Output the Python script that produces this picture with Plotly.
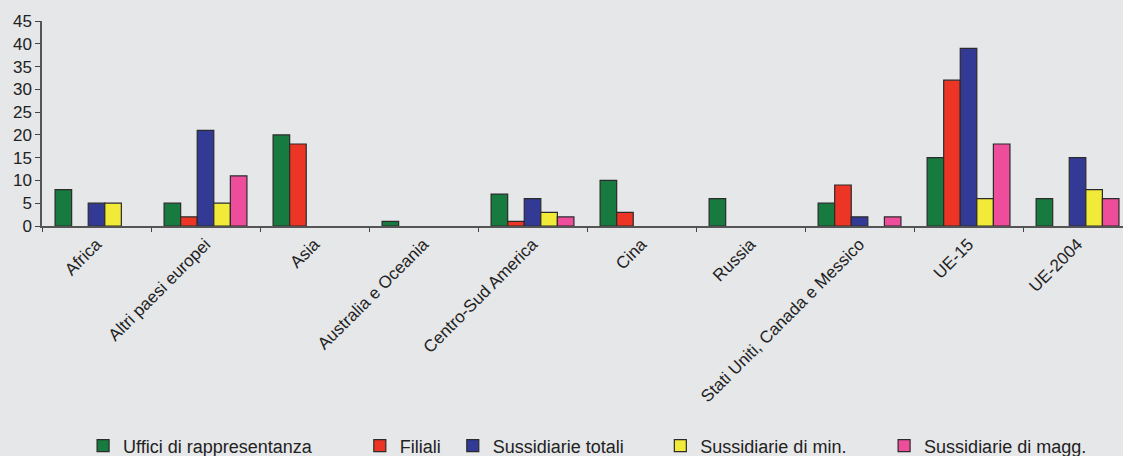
import plotly.graph_objects as go

regioni = ["Africa", "Altri paesi europei", "Asia", "Australia e Oceania",
           "Centro-Sud America", "Cina", "Russia",
           "Stati Uniti, Canada e Messico", "UE-15", "UE-2004"]

uffici = [8, 5, 20, 1, 7, 10, 6, 5, 15, 6]
filiali = [0, 2, 18, 0, 1, 3, 0, 9, 32, 0]
sussid_tot = [5, 21, 0, 0, 6, 0, 0, 2, 39, 15]
sussid_min = [5, 5, 0, 0, 3, 0, 0, 0, 6, 8]
sussid_magg = [0, 11, 0, 0, 2, 0, 0, 2, 18, 6]

serie = [
    ("Uffici di rappresentanza", uffici, "#177a3e", 0.038),
    ("Filiali", filiali, "#ec3524", 0.294),
    ("Sussidiarie totali", sussid_tot, "#323a96", 0.380),
    ("Sussidiarie di min.", sussid_min, "#f2ea38", 0.572),
    ("Sussidiarie di magg.", sussid_magg, "#ee4d9b", 0.779),
]

bg = "#e6e7e9"
font = "Liberation Sans, Arial, sans-serif"

fig = go.Figure()
layout_legends = {}
for i, (nome, vals, col, lx) in enumerate(serie):
    key = "legend" if i == 0 else f"legend{i + 1}"
    # zero values are simply not drawn in the original
    fig.add_trace(go.Bar(
        x=regioni, y=[v if v else None for v in vals], name=nome, legend=key,
        marker=dict(color=col, line=dict(color="#2b2b2b", width=1.2)),
    ))
    layout_legends[key] = dict(
        x=lx, y=0.022, yref="container", xanchor="left", yanchor="middle",
        orientation="h", bgcolor="rgba(0,0,0,0)",
        font=dict(family=font, size=18, color="#222"),
    )

fig.update_layout(
    width=1123, height=456,
    margin=dict(l=42, r=0, t=21, b=230),
    paper_bgcolor=bg, plot_bgcolor=bg,
    barmode="group", bargap=0.24, bargroupgap=0,
    showlegend=True,
    font=dict(family=font, color="#222"),
    **layout_legends,
)

fig.update_xaxes(
    type="category", range=[-0.5, 9.417],
    tickangle=-45, tickson="boundaries",
    ticks="outside", ticklen=4, tickcolor="#444",
    showline=True, linecolor="#555", linewidth=1.5,
    showgrid=False, automargin=False,
    tickfont=dict(size=17, family=font, color="#222"),
)
fig.update_yaxes(
    range=[0, 45], dtick=5, tick0=0,
    ticks="outside", ticklen=5, tickcolor="#444",
    showline=True, linecolor="#555", linewidth=1.5,
    showgrid=False, zeroline=False, automargin=False,
    tickfont=dict(size=17, family=font, color="#222"),
)

fig.write_html("out.html",
               config={"displayModeBar": False},
               post_script="document.body.style.margin='0';"
                           "document.body.style.overflow='hidden';"
                           "document.documentElement.style.overflow='hidden';"
                           "document.body.style.background='#e6e7e9';")
